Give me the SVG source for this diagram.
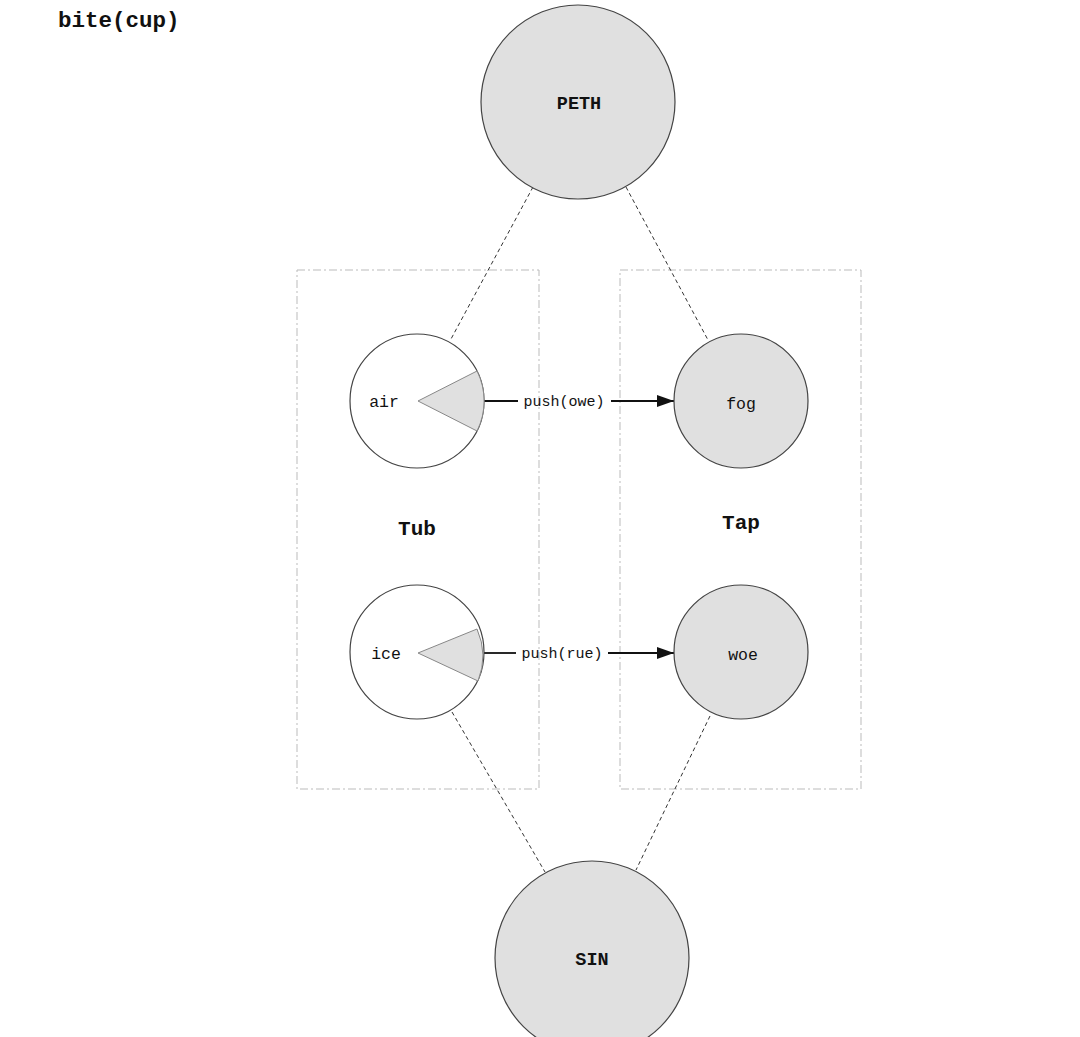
<svg xmlns="http://www.w3.org/2000/svg" width="1080" height="1037" viewBox="0 0 1080 1037">
<defs>
<style>
.t{font-family:"Liberation Mono","DejaVu Sans Mono",monospace;fill:#111;text-anchor:middle}
.big{fill:#e0e0e0;stroke:#444;stroke-width:1.2}
.wht{fill:#fff;stroke:#444;stroke-width:1.2}
.wedge{fill:#e0e0e0;stroke:#888;stroke-width:1}
.box{fill:none;stroke:#bbb;stroke-width:1;stroke-dasharray:8,3,2,3}
.dash{stroke:#333;stroke-width:1;stroke-dasharray:4,3;fill:none}
.arr{stroke:#111;stroke-width:1.8;fill:none}
</style>
<marker id="ah" viewBox="0 0 10 10" refX="10" refY="5" markerWidth="17" markerHeight="12" markerUnits="userSpaceOnUse" orient="auto" preserveAspectRatio="none">
<path d="M0,0 L10,5 L0,10 z" fill="#111"/>
</marker>
</defs>
<rect width="1080" height="1037" fill="#fff"/>
<text class="t" x="58" y="27" style="text-anchor:start;font-size:22.5px;font-weight:bold">bite(cup)</text>
<g id="Tub">
<rect class="box" x="297" y="270" width="242" height="519"/>
<text class="t" x="417" y="535" style="font-size:21px;font-weight:bold">Tub</text>
</g>
<g id="Tap">
<rect class="box" x="620" y="270" width="241" height="519"/>
<text class="t" x="741" y="529" style="font-size:21px;font-weight:bold">Tap</text>
</g>
<g id="connectors">
<line class="dash" x1="533" y1="187" x2="451" y2="339"/>
<line class="dash" x1="626" y1="187" x2="708" y2="340"/>
<line class="dash" x1="452" y1="712" x2="545" y2="872"/>
<line class="dash" x1="710" y1="716" x2="636" y2="870"/>
<line class="arr" x1="484" y1="401" x2="518" y2="401"/>
<line class="arr" x1="611" y1="401" x2="674" y2="401" marker-end="url(#ah)"/>
<text class="t" x="564" y="406" style="font-size:15px">push(owe)</text>
<line class="arr" x1="484" y1="653" x2="516" y2="653"/>
<line class="arr" x1="608" y1="653" x2="674" y2="653" marker-end="url(#ah)"/>
<text class="t" x="562" y="658" style="font-size:15px">push(rue)</text>
</g>
<g id="PETH">
<circle class="big" cx="578" cy="102" r="97"/>
<text class="t" x="579" y="109" style="font-size:18.5px;font-weight:bold">PETH</text>
</g>
<g id="air">
<circle class="wht" cx="417" cy="401" r="67"/>
<path class="wedge" d="M418,401 L477,371 A67,67 0 0 1 477,431 Z"/>
<text class="t" x="384" y="407" style="font-size:16.5px">air</text>
</g>
<g id="fog">
<circle class="big" cx="741" cy="401" r="67"/>
<text class="t" x="741" y="409" style="font-size:16.5px">fog</text>
</g>
<g id="ice">
<circle class="wht" cx="417" cy="652" r="67"/>
<path class="wedge" d="M418,653 L477,629 A67,67 0 0 1 478,681 Z"/>
<text class="t" x="386" y="659" style="font-size:16.5px">ice</text>
</g>
<g id="woe">
<circle class="big" cx="741" cy="652" r="67"/>
<text class="t" x="743" y="660" style="font-size:16.5px">woe</text>
</g>
<g id="SIN">
<circle class="big" cx="592" cy="958" r="97"/>
<text class="t" x="592" y="965" style="font-size:18.5px;font-weight:bold">SIN</text>
</g>
</svg>
